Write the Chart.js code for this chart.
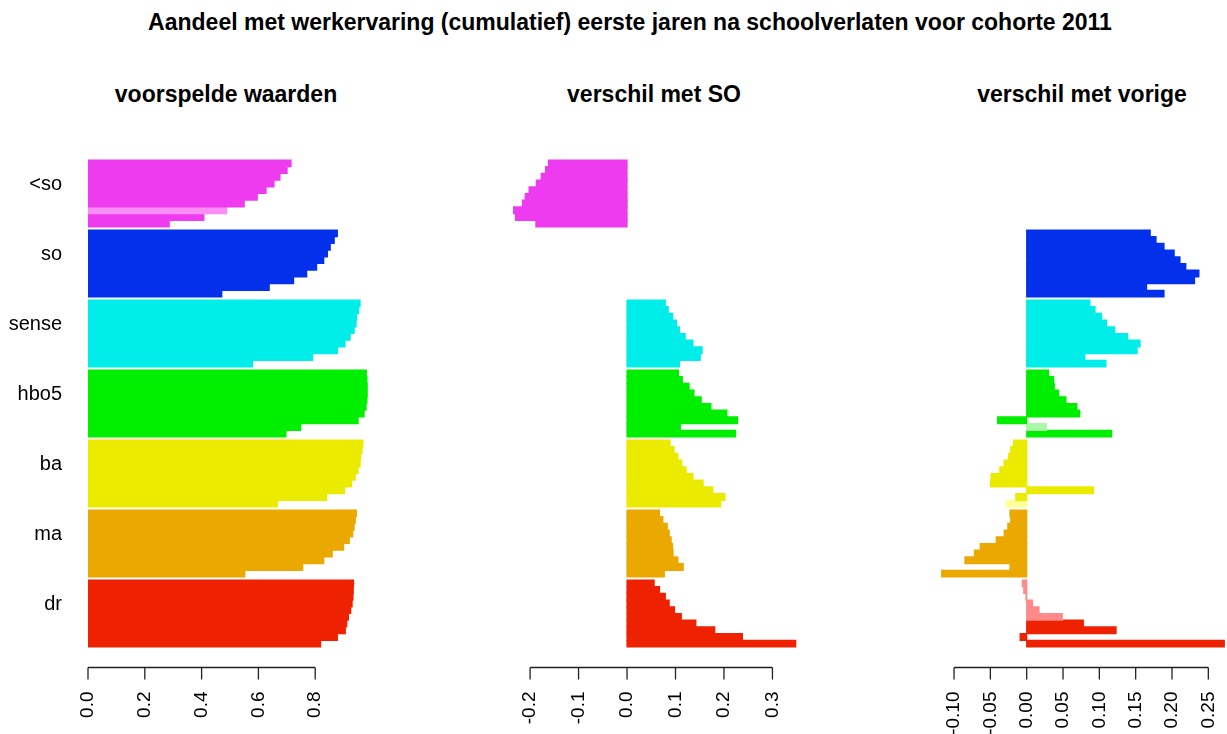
<!DOCTYPE html>
<html>
<head>
<meta charset="utf-8">
<script src="https://cdn.jsdelivr.net/npm/chart.js@4.4.0/dist/chart.umd.min.js"></script>
<style>
  body { margin: 0; background: #fff; font-family: "Liberation Sans", Arial, sans-serif; }
  #wrap { position: relative; width: 1227px; height: 734px; overflow: hidden; }
  canvas { position: absolute; top: 0; }
  .ttl { position: absolute; font-weight: bold; font-size: 23px; line-height: 23px;
         white-space: nowrap; transform: translateX(-50%); color: #000; }
</style>
</head>
<body>
<div id="wrap">
  <div class="ttl" style="left:630px; top:11px">Aandeel met werkervaring (cumulatief) eerste jaren na schoolverlaten voor cohorte 2011</div>
  <div class="ttl" style="left:226px; top:83px">voorspelde waarden</div>
  <div class="ttl" style="left:654px; top:83px">verschil met SO</div>
  <div class="ttl" style="left:1082px; top:83px">verschil met vorige</div>
  <canvas id="p1" width="372" height="734" style="left:0"></canvas>
  <canvas id="p2" width="301" height="734" style="left:501px"></canvas>
  <canvas id="p3" width="288" height="734" style="left:939px"></canvas>
</div>
<script>
const groups = ['<so', 'so', 'sense', 'hbo5', 'ba', 'ma', 'dr'];

// voorspelde waarden (10 jaren per groep)
const pred_lso   = [0.715, 0.701, 0.676, 0.655, 0.627, 0.596, 0.550, 0.488, 0.408, 0.286];
const pred_so    = [0.878, 0.867, 0.853, 0.843, 0.830, 0.805, 0.770, 0.724, 0.638, 0.471];
const pred_sense = [0.958, 0.953, 0.946, 0.944, 0.937, 0.923, 0.905, 0.878, 0.791, 0.579];
const pred_hbo5  = [0.980, 0.982, 0.983, 0.983, 0.982, 0.979, 0.972, 0.951, 0.749, 0.697];
const pred_ba    = [0.968, 0.965, 0.960, 0.958, 0.951, 0.941, 0.928, 0.903, 0.840, 0.667];
const pred_ma    = [0.945, 0.941, 0.937, 0.932, 0.920, 0.900, 0.860, 0.830, 0.756, 0.552];
const pred_dr    = [0.935, 0.934, 0.933, 0.930, 0.925, 0.917, 0.911, 0.906, 0.878, 0.819];

// verschil met SO
const so_lso   = [-0.162, -0.168, -0.177, -0.187, -0.202, -0.210, -0.216, -0.234, -0.230, -0.188];
const so_sense = [0.079, 0.085, 0.094, 0.102, 0.108, 0.120, 0.136, 0.155, 0.151, 0.108];
const so_hbo5  = [0.106, 0.114, 0.128, 0.138, 0.153, 0.173, 0.206, 0.228, 0.110, 0.224];
const so_ba    = [0.089, 0.097, 0.105, 0.113, 0.122, 0.136, 0.157, 0.177, 0.202, 0.193];
const so_ma    = [0.067, 0.074, 0.083, 0.087, 0.091, 0.094, 0.095, 0.105, 0.116, 0.077];
const so_dr    = [0.056, 0.067, 0.079, 0.087, 0.098, 0.112, 0.142, 0.181, 0.238, 0.348];

// verschil met vorige
const prev_so    = [0.170, 0.178, 0.189, 0.203, 0.211, 0.219, 0.237, 0.231, 0.165, 0.189];
const prev_sense = [0.087, 0.094, 0.103, 0.110, 0.121, 0.139, 0.156, 0.152, 0.080, 0.109];
const prev_hbo5  = [0.030, 0.037, 0.038, 0.044, 0.054, 0.069, 0.073, -0.040, 0.027, 0.117];
const prev_ba    = [-0.018, -0.022, -0.025, -0.031, -0.037, -0.049, -0.050, 0.092, -0.015, -0.028];
const prev_ma    = [-0.023, -0.022, -0.026, -0.031, -0.042, -0.064, -0.072, -0.085, -0.023, -0.117];
const prev_dr    = [-0.006, -0.004, -0.001, 0.008, 0.017, 0.049, 0.078, 0.123, -0.009, 0.272];

// lichte (niet significante) cellen: [groep, jaar]
const light1 = [[0, 7]];
const light2 = [];
const light3 = [[3, 8], [4, 9], [6, 0], [6, 1], [6, 2], [6, 3], [6, 4], [6, 5]];

const ticks1 = [0, 0.2, 0.4, 0.6, 0.8];
const tickLabels1 = ['0.0', '0.2', '0.4', '0.6', '0.8'];
const ticks2 = [-0.2, -0.1, 0, 0.1, 0.2, 0.3];
const tickLabels2 = ['-0.2', '-0.1', '0.0', '0.1', '0.2', '0.3'];
const ticks3 = [-0.10, -0.05, 0, 0.05, 0.10, 0.15, 0.20, 0.25];
const tickLabels3 = ['-0.10', '-0.05', '0.00', '0.05', '0.10', '0.15', '0.20', '0.25'];

const baseColors  = ['#EF3BEF', '#0530EB', '#00EDEA', '#00EE00', '#EBEB00', '#EBA800', '#EE2200'];
const lightColors = ['#FB8DF6', '#8899F5', '#88F5F3', '#A9F7A9', '#FFFF99', '#F5D488', '#FF8A8A'];

// R-style axis: line only between first and last tick
const axisLine = {
  id: 'axisLine',
  afterDraw(chart) {
    const s = chart.scales.x, ctx = chart.ctx;
    const y = Math.round(chart.chartArea.bottom + 18) + 0.5;
    const xs = s.ticks.map(t => s.getPixelForValue(t.value));
    ctx.save();
    ctx.strokeStyle = '#222';
    ctx.lineWidth = 1.3;
    ctx.beginPath();
    ctx.moveTo(xs[0], y);
    ctx.lineTo(xs[xs.length - 1], y);
    xs.forEach(x => { ctx.moveTo(x, y); ctx.lineTo(x, y + 12); });
    ctx.stroke();
    ctx.restore();
  }
};

function panel(id, series, light, xmin, xmax, tickVals, tickLabels, showLabels) {
  const datasets = [];
  for (let i = 0; i < 10; i++) {
    datasets.push({
      data: series.map(s => s ? s[i] : null),
      backgroundColor: groups.map((g, gi) =>
        light.some(c => c[0] === gi && c[1] === i) ? lightColors[gi] : baseColors[gi]),
      borderWidth: 0,
      inflateAmount: 0.6,
      barPercentage: 1,
      categoryPercentage: 67 / 70
    });
  }
  new Chart(document.getElementById(id), {
    type: 'bar',
    data: { labels: groups, datasets: datasets },
    options: {
      indexAxis: 'y',
      responsive: false,
      animation: false,
      layout: { padding: { top: 158.5, left: 0, right: 0, bottom: 0 } },
      plugins: { legend: { display: false }, tooltip: { enabled: false } },
      scales: {
        x: {
          min: xmin,
          max: xmax,
          afterBuildTicks: s => { s.ticks = tickVals.map(v => ({ value: v })); },
          afterFit: s => { s.height = 85.5; s.paddingLeft = 0; s.paddingRight = 0; },
          grid: { display: false, drawTicks: false },
          border: { display: false },
          ticks: {
            autoSkip: false,
            minRotation: 90,
            maxRotation: 90,
            padding: 43,
            color: '#000',
            font: { size: 19, family: 'Liberation Sans' },
            callback: (v, i) => tickLabels[i]
          }
        },
        y: {
          display: showLabels,
          afterFit: s => { s.width = showLabels ? 88 : 0; },
          grid: { display: false, drawTicks: false },
          border: { display: false },
          ticks: {
            padding: 26,
            labelOffset: -9.5,
            color: '#000',
            font: { size: 20, family: 'Liberation Sans' }
          }
        }
      }
    },
    plugins: [axisLine]
  });
}

panel('p1', [pred_lso, pred_so, pred_sense, pred_hbo5, pred_ba, pred_ma, pred_dr],
      light1, 0, 1.0, ticks1, tickLabels1, true);
panel('p2', [so_lso, null, so_sense, so_hbo5, so_ba, so_ma, so_dr],
      light2, -0.26, 0.361, ticks2, tickLabels2, false);
panel('p3', [null, prev_so, prev_sense, prev_hbo5, prev_ba, prev_ma, prev_dr],
      light3, -0.1207, 0.2757, ticks3, tickLabels3, false);
</script>
</body>
</html>
